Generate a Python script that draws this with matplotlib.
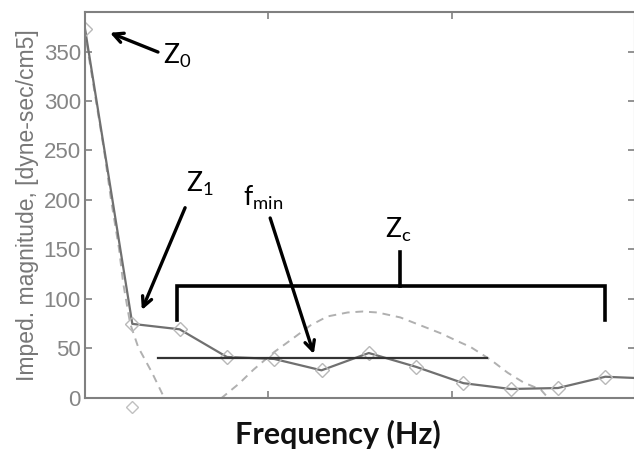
import matplotlib
matplotlib.use("Agg")
import matplotlib.pyplot as plt
import numpy as np

plt.rcParams['mathtext.fontset'] = 'custom'
plt.rcParams['mathtext.rm'] = 'Lato'
plt.rcParams['mathtext.it'] = 'Lato:italic'
plt.rcParams['mathtext.bf'] = 'Lato:bold'

# measured impedance magnitude at harmonics (Hz)
freq = [0.0, 1.29, 2.58, 3.87, 5.16, 6.45, 7.74, 9.03, 10.32, 11.61, 12.9, 14.19, 15.48]
imped = [373, 74.5, 69, 41, 39, 27.5, 45, 31, 14.5, 8.6, 9.6, 21, 19]

# model curve (dashed)
model_f = [0.0, 0.08, 0.3, 0.52, 0.71, 0.93, 1.04, 1.23, 1.45, 1.83, 2.13, 2.5, 2.9, 3.3, 3.74,
           4.2, 4.59, 5.16, 5.68, 6.15, 6.61, 7.16, 7.57, 7.98, 8.6, 9.15, 9.7, 10.16, 10.52,
           11.07, 11.53, 11.97, 12.43, 12.62, 13.5, 15.0]
model_z = [372, 350, 300, 250, 200, 150, 116, 75, 51, 25, 2, -15, -20, -14, 0,
           14, 28, 46, 60, 73, 82, 86, 87, 86, 81, 73, 65, 57, 51,
           38, 25, 15, 8, 0, -15, -30]

# stray marker below axis
stray_f = [1.29]
stray_z = [-9.5]

fmin_level = 39.5
fmin_span = [1.99, 10.96]
zc_span = [2.51, 14.18]
zc_top = 113
zc_drop = 78.5
zc_mid = 8.58
zc_stem = 147

W, H = 634, 450
fig = plt.figure(figsize=(W / 100, H / 100), dpi=100)
ax = fig.add_axes([85 / W, (H - 397.5) / H, 550 / W, 385.5 / H])

ax.plot(model_f, model_z, ls=(0, (4, 3)), color='#b0b0b0', lw=1.4)
ax.plot(freq, imped, color='#707070', lw=1.6, marker='D', markersize=7,
        markerfacecolor='none', markeredgecolor='#b8b8b8', markeredgewidth=1.0)
ax.plot(stray_f, stray_z, ls='none', marker='D', markersize=6.5, markerfacecolor='none',
        markeredgecolor='#c0c0c0', markeredgewidth=1.0, clip_on=False)

ax.plot(fmin_span, [fmin_level, fmin_level], color='#333333', lw=1.6)
ax.plot([zc_span[0], zc_span[0], zc_span[1], zc_span[1]],
        [zc_drop, zc_top, zc_top, zc_drop], color='black', lw=2.6, solid_joinstyle='miter')
ax.plot([zc_mid, zc_mid], [zc_top, zc_stem], color='black', lw=2.6)

ax.set_xlim(0, 15)
ax.set_ylim(0, 390)
ax.set_xticks([5, 10])
ax.set_xticklabels([])
ax.set_yticks([0, 50, 100, 150, 200, 250, 300, 350])
ax.tick_params(axis='both', direction='in', length=5, width=1.2, color='#808080',
               top=True, right=True, labelsize=16, labelcolor='#858585', pad=3)
for s in ax.spines.values():
    s.set_color('#808080')
    s.set_linewidth(1.5)
for lab in ax.get_yticklabels():
    lab.set_family('Liberation Sans')

ax.set_ylabel('Imped. magnitude, [dyne-sec/cm5]', fontsize=16.5, color='#777777',
              family='Liberation Sans', labelpad=3)
fig.text(338 / W, (H - 444) / H, 'Frequency (Hz)', fontsize=22, fontweight='bold',
         family='Lato', color='#111111', ha='center', va='baseline')

arrow = dict(arrowstyle='->, head_length=0.7, head_width=0.35', color='black', lw=2.4,
             shrinkA=0, shrinkB=0)
tfont = dict(fontsize=19, color='black', va='center', ha='left')
ax.annotate('', xy=(0.68, 369), xytext=(1.99, 349.5), arrowprops=arrow)
ax.text(2.13, 346, r'$\mathrm{Z_0}$', **tfont)
ax.annotate('', xy=(1.55, 88.5), xytext=(2.73, 192), arrowprops=arrow)
ax.text(2.75, 216, r'$\mathrm{Z_1}$', **tfont)
ax.annotate('', xy=(6.24, 44), xytext=(5.05, 181.6), arrowprops=arrow)
ax.text(4.31, 202, r'$\mathrm{f_{min}}$', **tfont)
ax.text(8.18, 170, r'$\mathrm{Z_c}$', **tfont)

fig.savefig('out.png', dpi=100)
